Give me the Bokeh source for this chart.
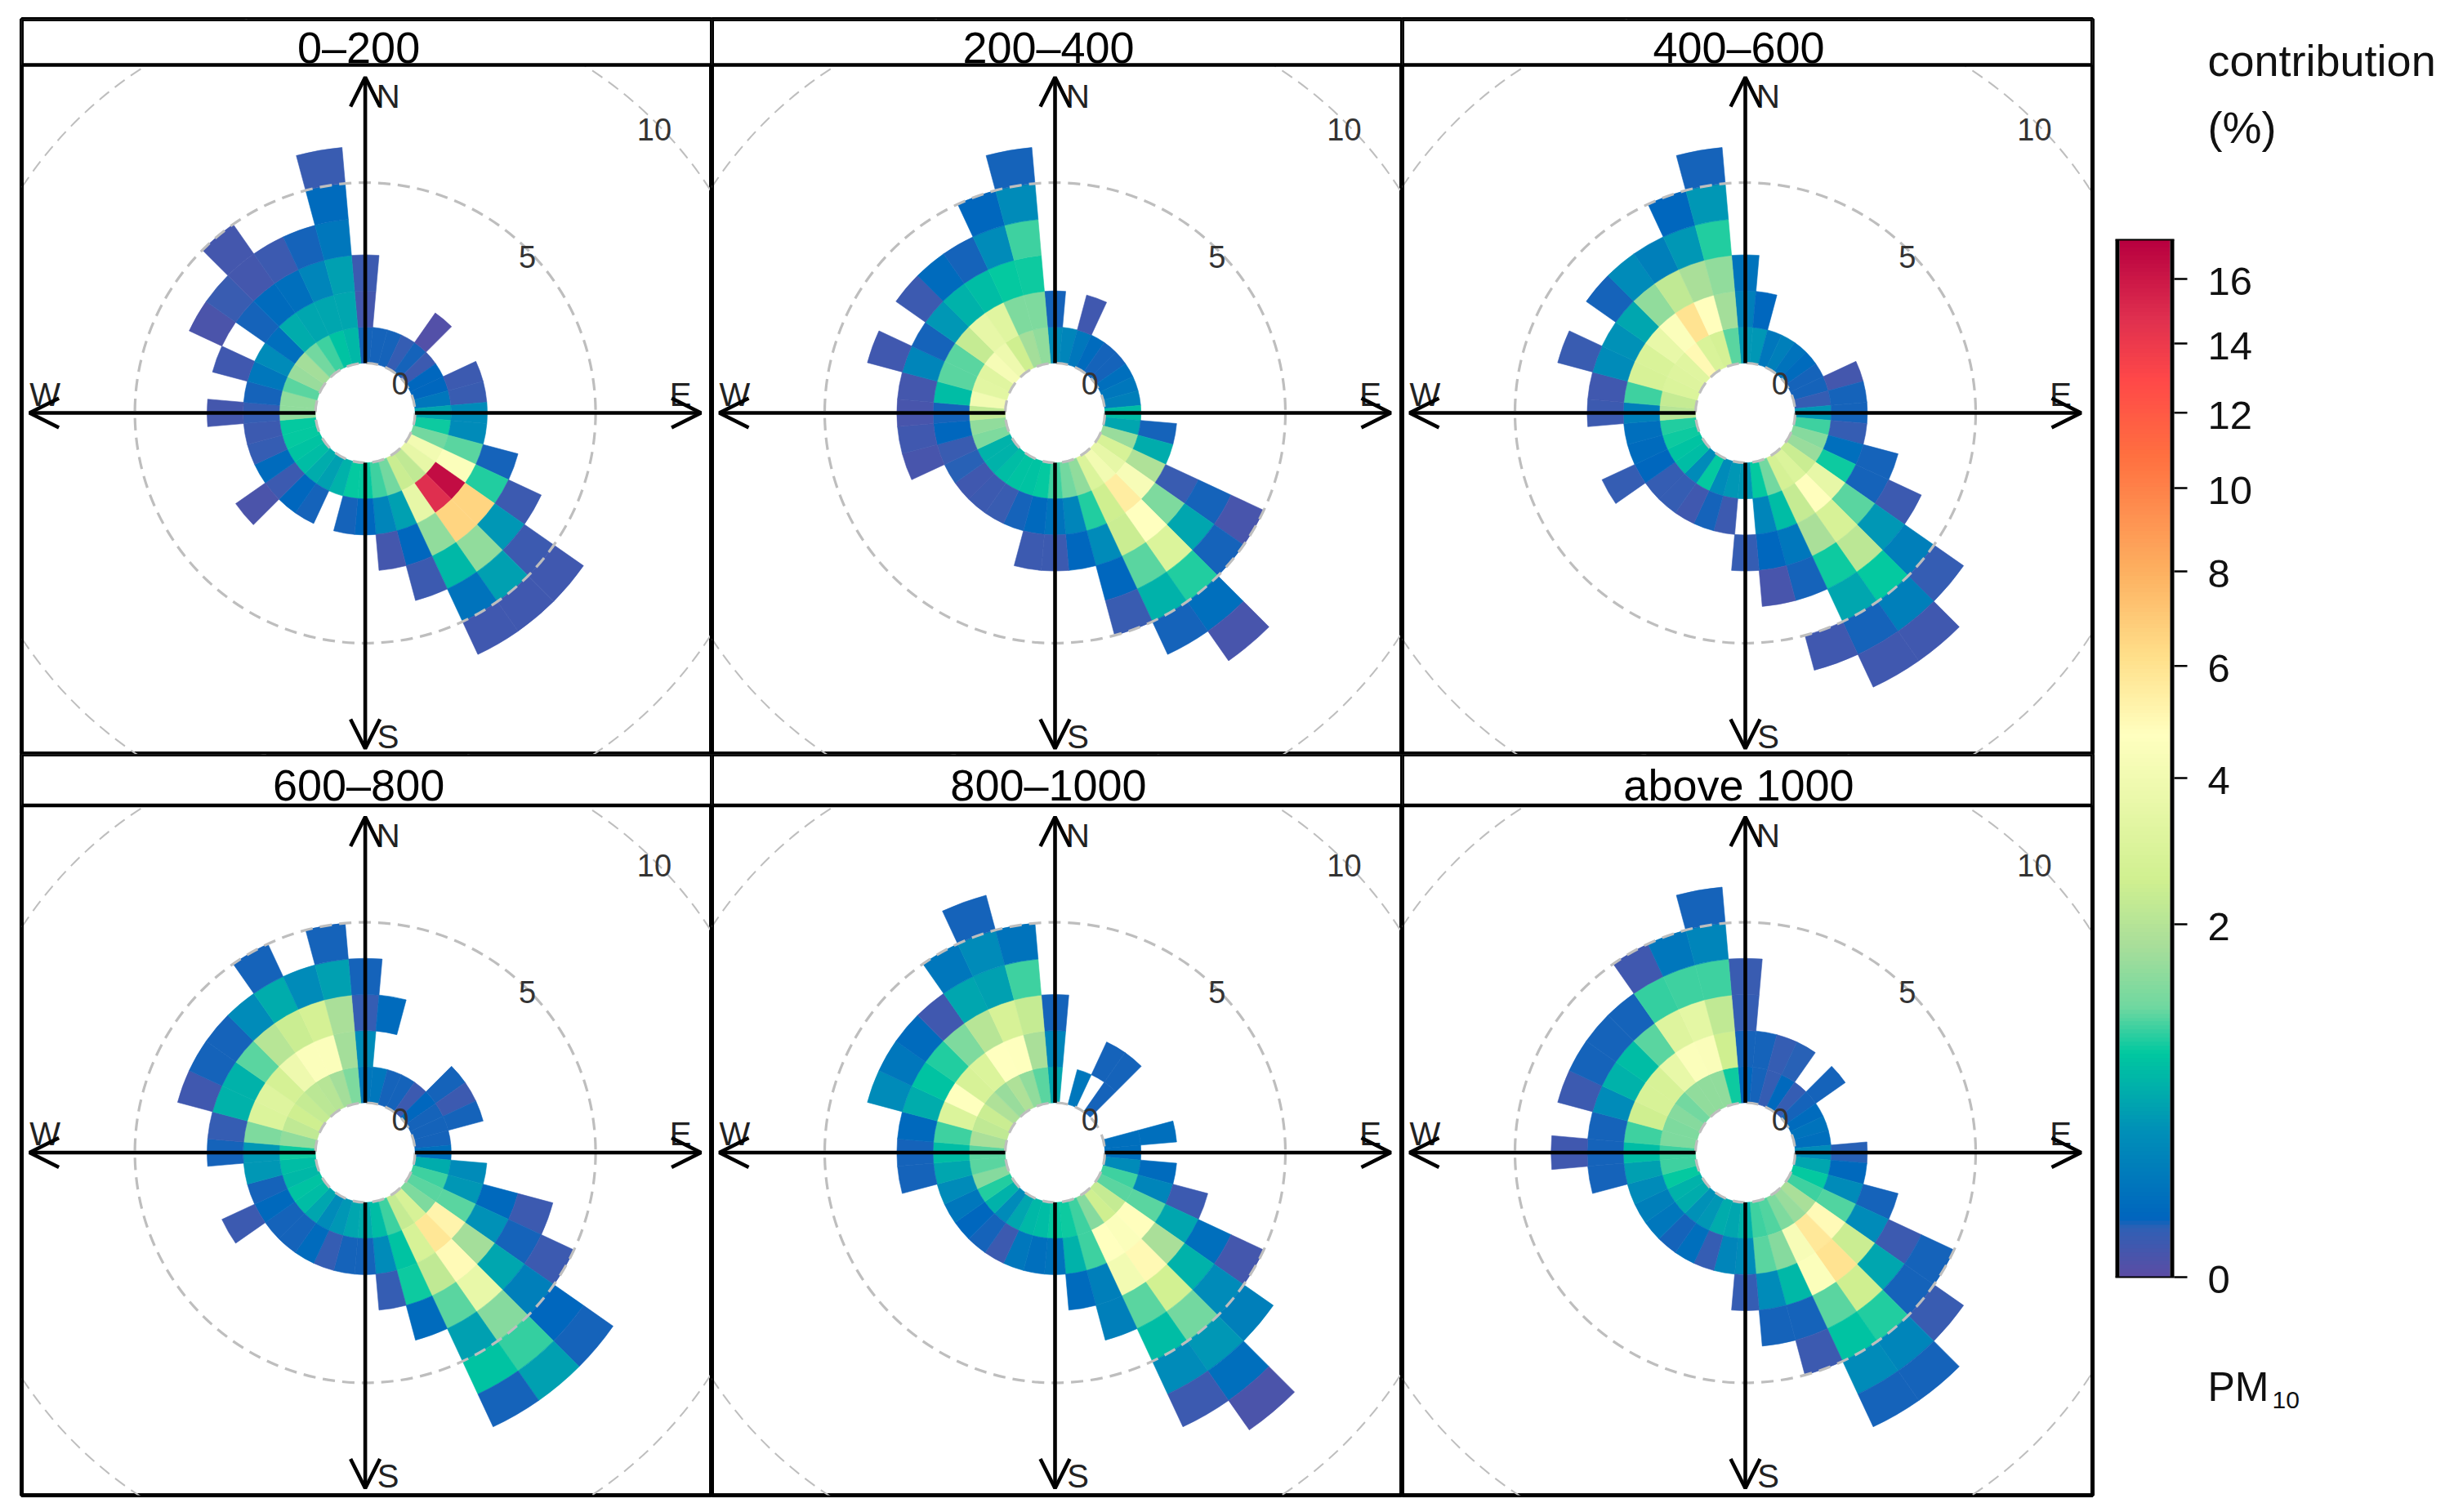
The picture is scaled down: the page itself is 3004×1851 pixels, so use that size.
import math
import numpy as np
from bokeh.core.properties import value
from bokeh.embed import file_html
from bokeh.layouts import column, row
from bokeh.models import Arrow, ColumnDataSource, LinearColorMapper, OpenHead, Span
from bokeh.plotting import figure
from bokeh.resources import INLINE

# wind direction of each sector, degrees clockwise from north
wd = list(range(0, 360, 10))
ws_step = 1
sector_width = 10

# PM10 contribution (%), one list per direction, from the lowest wind speed bin outwards
pm_0_200 = [[.05,.01,.02],[.05],[.05],[.03],[.05,.002],[.02],[.06],[.06,.02],[.15,.025],[.5,.3],
            [.85,.3],[1.2,1.1,.05],[4,4.5,.9,.02],[3.5,16.5,6.5,.4,.02,.015],[2.2,14.7,6.5,1.5,.45,.015],
            [2.4,3.5,1.5,.65,.12,.015],[1.2,.45,.06,.02],[1,.25,.01],[.8,.06],[.8,.05],[.6],[.45,.05],
            [.55,.06],[.7,.02,.005],[.75,.08],[.8,.03],[.8,.02],[1.5,.03,.012],[1.5,.05],[1.1,.15,.015],
            [1.6,.3,None,.005],[1.7,.1,.05,.025],[1.2,.55,.08,.01,.012],[1,.5,.1,.02],[.75,.5,.25,.05],
            [.65,.5,.45,.15,.08,.025]]
pm_200_400 = [[.3,.05],[.25],[.15,.015],[.08],[.05],[.05],[.1],[.15],[.2],[.7],[.5,.05],[1.6,.55],
              [2.8,1.9,.025,.05,.008],[3.5,4.3,1.3,.5,.05],[4,5.5,4.7,3,.9,.1,.008],[3,2.5,2.4,1.1,.6,.05],
              [1.5,.9,.3,.06,.025],[1.2,.25,.06],[1,.12,.02],[.8,.07,.02],[.75,.05],[.75,.025],[.7,.02],
              [.6,.015],[.6,.04],[1.3,.025,.008],[1.5,.06,.015],[2.2,.05,.008],[4,.7,.012],[3.3,1.1,.25,.015],
              [3.2,1.1,.05],[4.2,2.3,.4,.02],[3.8,3.5,.6,.08],[2.5,3.2,.7,.05],[1.7,1.3,.8,.3,.06],
              [1.5,1.3,.85,1,.3,.05]]
pm_400_600 = [[.4,.2,.12],[.4,.06],[.15],[.2],[.12],[.08],[.05],[.05,.01],[.03,.05],[.4,.05],[1,.03],
              [1.4,.1,.05],[1.6,.85,.05,.02],[2.4,3.5,1.1,.4,.2,.03],[3,4.8,2.8,2.1,.8,.2,.015],
              [2.7,2.3,1.8,.85,.5,.05,.015],[1.2,.7,.15,.05,None,.015],[.8,.25,.06,.008],[.4,None,.03],
              [.4,.02],[.3,.05],[.8,.015],[.3,.03],[.7,.03],[.75,.06,.03],[.85,.08],[.9,.1],[2,.2,.02],
              [2.3,1,.015],[3,2.8,.3,.025],[3.1,2.9,.35],[3.2,3.6,.5,.05],[5,4.5,1.5,.3],[2.9,6,2.2,.2],
              [2.7,4.8,1.8,.4,.06],[1.1,1.7,1.5,.9,.4,.05]]
pm_600_800 = [[.15,.3,.03,.05],[.15,None,.08],[.05],[.05],[.02],[.06,.05],[.05,.02],[.05,.05],[.05],[.1],
              [.55,.3],[1,.4,.07,.02],[1.1,1.1,.35,.05,.02],[1.3,5.2,1.7,.5,.2,.06,.045],
              [2.8,5.8,4.9,3.6,1.4,.95,.45],[2.3,2.8,2.2,1.1,.45,.75,.05],[1,.75,.85,.08],[.7,.3,.03],
              [.55,.05],[.5,.05],[.4,.03],[.3,.08],[.5,.05],[.7,.05],[.75,.07,.02],[.65,.05],[.7,.4],
              [.85,.4,.05],[1.5,1.3,.03],[2.2,3,.6,.015],[2.5,3.1,.6,.05],[2.3,2.7,1.1,.05],[2.1,3.8,2,.3],
              [2,4.5,2.4,.55,.05],[1.7,4.5,2.7,.3],[1.3,1.7,1.8,.45,.05]]
pm_800_1000 = [[.5,.25,.05],[],[.15],[None,.05],[.05,.05],[],[],[],[.1,.1],[.1],[.3,.08],[1,.25,.02],
               [1.1,1.1,.5,.1,.012],[2.3,4.8,1.8,.6,.3,.2],[2.5,4.5,5,2.6,1.2,.4,.1,.006],
               [1.4,4.7,4,1.1,.7,.3,.02],[1,1,.2,.2],[.85,.6,.08],[.8,.12],[.7,.1],[.65,.15],[.5,.02],
               [.3,.05],[.6,.06],[.9,.15],[1.4,.3],[1.1,.5,.05],[1.1,.7,.05],[1.8,1,.07],[2.2,3,.55,.3],
               [2.4,4.6,.75,.15],[1.9,2.8,.9,.08],[1.6,3,1.3,.015],[1.9,4.7,2,.5,.15],[1.5,4.6,2.8,.45,.3,.05],
               [1.1,1.8,2.3,1,.12]]
pm_above_1000 = [[.06,.05,.03,.025],[.05,.05],[.03,.03],[.07,.04],[.03],[.05,.05],[.08],[.12],[.1],[.3,.04],
                 [.5,.07],[.8,.3,.05],[1,1.05,.3,.02,.05],[1.8,4.9,2.4,.5,.05,.025],
                 [1.6,5.7,6,2.5,.9,.25,.05],[1.3,4.3,4.5,1.1,.75,.3,.05],[1.05,1.4,.65,.05,.02],[1,1.1,.3,.05],
                 [.6,.3,.03],[.5,.25],[.55,.03],[.4,.1],[.35,.05],[.55,.15],[.6,.2],[.8,.3],[1,.45,.05],
                 [1,.7,.05,.015],[1.3,1,.05],[1.3,2.5,.3,.02],[1.4,2.8,.6,.05],[1.2,2.8,.7,.05],[1.5,3.6,1.1,.05],
                 [1.5,4.5,3.1,.95,.015],[1.5,4.4,3.4,1,.15],[.85,2.5,2.2,1,.25,.05]]

panels = [("0\u2013200", pm_0_200), ("200\u2013400", pm_200_400), ("400\u2013600", pm_400_600),
          ("600\u2013800", pm_600_800), ("800\u20131000", pm_800_1000), ("above 1000", pm_above_1000)]

ring_values = [0, 5, 10]
colorbar_ticks = [0, 2, 4, 6, 8, 10, 12, 14, 16]
colorbar_max = 17.28

# colours of the key, position given on the sqrt scale
stops = [(0, "#5A4DA5"), (.19, "#2F60B5"), (.23, "#0065BE"), (.58, "#0090B8"), (.89, "#00C8A0"),
         (1.08, "#70D8A0"), (1.32, "#A8DE9A"), (1.59, "#D0F090"), (2.17, "#FFFFBF"), (2.48, "#FFE08B"),
         (2.83, "#FDB060"), (3.29, "#FF7040"), (3.6, "#FF4848"), (3.84, "#E0304F"), (4.157, "#B8003F")]
xs = [s[0] for s in stops]
rgb = [[int(s[1][i:i+2], 16) for s in stops] for i in (1, 3, 5)]
smax = math.sqrt(colorbar_max)
grid = np.linspace(0, smax, 256)
palette = ["#%02x%02x%02x" % tuple(int(round(np.interp(g, xs, c))) for c in rgb) for g in grid]
mapper = LinearColorMapper(palette=palette, low=0, high=smax)

U = 44.2          # pixels per unit of wind speed
offset = 61 / U   # radius of the hole in the middle
FONT = "Liberation Sans"


def make_panel(title, data, left, right, up, down, strip, ring_dy, pad_left=0, pad_right=0, pad_top=0, pad_bottom=0):
    w = int(left + right) + pad_left + pad_right
    h = int(up + down + strip) + pad_top + pad_bottom
    p = figure(width=w, height=h, output_backend="svg", toolbar_location=None,
               x_range=(-left / U, right / U), y_range=(-down / U, (up + strip) / U),
               x_axis_location=None, y_axis_location=None, min_border_left=pad_left, min_border_right=pad_right,
               min_border_top=pad_top, min_border_bottom=pad_bottom)
    p.grid.visible = False
    p.outline_line_color = "black"
    p.outline_line_width = 5

    inner, outer, start, end, s = [], [], [], [], []
    for d, bins in zip(wd, data):
        for k, v in enumerate(bins):
            if v is None:
                continue
            inner.append(offset + k * ws_step)
            outer.append(offset + (k + 1) * ws_step)
            start.append(math.radians(90 - d - sector_width / 2))
            end.append(math.radians(90 - d + sector_width / 2))
            s.append(math.sqrt(v))
    src = ColumnDataSource(dict(inner=inner, outer=outer, start=start, end=end, s=s))
    col = {"field": "s", "transform": mapper}
    p.annular_wedge(x=0, y=0, inner_radius="inner", outer_radius="outer", start_angle="start", end_angle="end",
                    fill_color=col, line_color=col, line_width=0.6, source=src)

    for v in ring_values:
        p.circle(x=0, y=0, radius=offset + v, fill_color=None, line_color="#BEBEBE",
                 line_width=2 if v == 10 else 3.2, line_dash="15 9")

    # strip on top of the panel
    p.quad(left=-left / U, right=right / U, bottom=up / U, top=(up + strip) / U, fill_color="white", line_color=None)
    p.add_layout(Span(location=up / U, dimension="width", line_color="black", line_width=4.5))
    p.add_layout(Span(location=-left / U, dimension="height", line_color="black", line_width=5))
    p.add_layout(Span(location=right / U, dimension="height", line_color="black", line_width=5))
    p.add_layout(Span(location=(up + strip) / U, dimension="width", line_color="black", line_width=5))
    p.text(x=[-8 / U], y=[(up + strip / 2 - 6) / U], text=[title], text_align="center", text_baseline="middle",
           text_font=value(FONT), text_font_size="54px", text_color="black")

    tip = 411 / U
    for dx, dy in [(0, 1), (1, 0), (0, -1), (-1, 0)]:
        p.add_layout(Arrow(end=OpenHead(size=36, line_width=4.5, line_color="black"), line_width=4.6,
                           line_color="black", x_start=dx * offset, y_start=dy * offset,
                           x_end=dx * tip, y_end=dy * tip))

    lx = [28, 386, 28, -392]
    ly = [388, 23, -396, 23]
    p.text(x=[v / U for v in lx], y=[v / U for v in ly], text=["N", "E", "S", "W"], text_align="center",
           text_baseline="middle", text_font=value(FONT), text_font_size="40px", text_color="#222222")
    for v in ring_values:
        r = offset + v
        p.text(x=[r * math.cos(math.pi / 4) * 0.995], y=[r * math.sin(math.pi / 4) * 0.995 - ring_dy / U],
               text=[str(v)], text_align="center", text_baseline="middle", text_font=value(FONT),
               text_font_size="38px", text_color="#333333")
    return p


p1 = make_panel(panels[0][0], panels[0][1], 420.6, 424.4, 426, 418, 56, 7, pad_left=26, pad_top=23)
p2 = make_panel(panels[1][0], panels[1][1], 420, 425, 426, 418, 56, 7, pad_top=23)
p3 = make_panel(panels[2][0], panels[2][1], 420, 425, 426, 418, 56, 7, pad_right=3, pad_top=23)
p4 = make_panel(panels[3][0], panels[3][1], 420.6, 424.4, 425, 419.5, 62.5, 2, pad_left=26, pad_bottom=3)
p5 = make_panel(panels[4][0], panels[4][1], 420, 425, 425, 419.5, 62.5, 2, pad_bottom=3)
p6 = make_panel(panels[5][0], panels[5][1], 420, 425, 425, 419.5, 62.5, 2, pad_right=3, pad_bottom=3)

# colour key: x counted in pixels, y on the sqrt scale, the frame fills the whole figure
S = 305.5
key = figure(width=432, height=1833, output_backend="svg", toolbar_location=None,
             x_range=(0, 432), y_range=((1563 - 1833) / S, 1563 / S), x_axis_location=None, y_axis_location=None,
             min_border=0, outline_line_color=None)
key.grid.visible = False
key.image(image=[grid.reshape(256, 1)], x=30, y=0, dw=62, dh=smax, color_mapper=mapper)
key.segment(x0=[27.5, 94.5], y0=[0, 0], x1=[27.5, 94.5], y1=[smax, smax], line_color="black", line_width=5)
key.segment(x0=[25, 25], y0=[0, smax], x1=[97, 97], y1=[0, smax], line_color="black", line_width=2)
tick_pos = [math.sqrt(v) for v in colorbar_ticks]
key.segment(x0=[97] * len(tick_pos), y0=tick_pos, x1=[113] * len(tick_pos), y1=tick_pos, line_color="black",
            line_width=2.5)
key.text(x=[138] * len(tick_pos), y=[t - 3 / S for t in tick_pos], text=[str(v) for v in colorbar_ticks],
         text_baseline="middle", text_font=value(FONT), text_font_size="49px", text_color="#111111")
key_words = ["contribution", "(%)", "PM", "10"]
word_x = [138, 138, 138, 217]
word_y = [73, 155, 1697, 1713]
word_size = ["54px", "54px", "50px", "30px"]
for txt, px, py, size in zip(key_words, word_x, word_y, word_size):
    key.text(x=[px], y=[(1563 - py) / S], text=[txt], text_baseline="middle", text_font=value(FONT),
             text_font_size=size, text_color="#111111")

layout = row(column(row(p1, p2, p3), row(p4, p5, p6)), key)
open("out.html", "w").write(file_html(layout, INLINE))
